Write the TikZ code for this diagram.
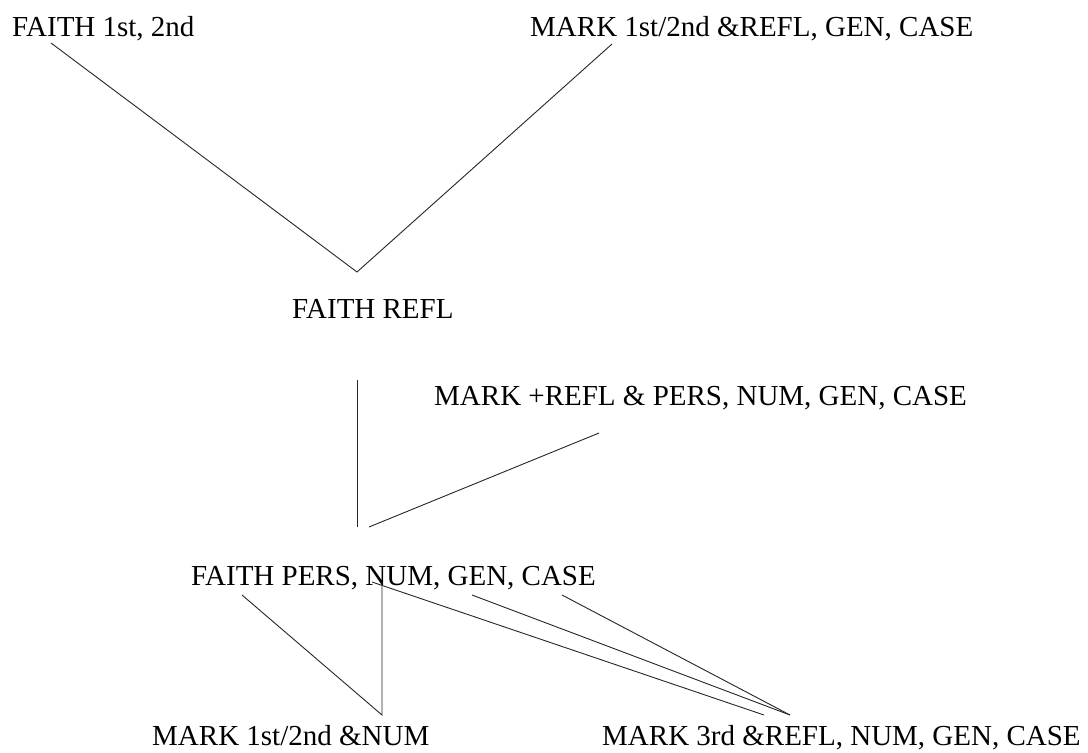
\documentclass[tikz,border=0pt]{standalone}
\usepackage{fontspec}
\setmainfont{Liberation Serif}
\begin{document}
\begin{tikzpicture}[x=1pt,y=-1pt,
  lbl/.style={anchor=base west,inner sep=0pt,font=\fontsize{29}{34}\selectfont},
  conn/.style={line width=0.9pt,black!85}]
\useasboundingbox[fill=white] (0,0) rectangle (1088,753);
% texts
\node[lbl] (t1) at (12,36) {FAITH 1st, 2nd};
\node[lbl] (t2) at (530,36) {MARK 1st/2nd \&REFL, GEN, CASE};
\node[lbl] (t3) at (292,318) {FAITH REFL};
\node[lbl] (t4) at (434,405) {MARK +REFL \& PERS, NUM, GEN, CASE};
\node[lbl] (t5) at (191,585) {FAITH PERS, NUM, GEN, CASE};
\node[lbl] (t6) at (152,745) {MARK 1st/2nd \&NUM};
\node[lbl] (t7) at (602,745) {MARK 3rd \&REFL, NUM, GEN, CASE};
% connector end points
\coordinate (a1) at (51,43);
\coordinate (a2) at (612,44);
\coordinate (v1) at (357,272);
\coordinate (b1) at (357,380);
\coordinate (b2) at (357,527);
\coordinate (c1) at (369,527);
\coordinate (c2) at (599,433);
\coordinate (d1) at (242,595);
\coordinate (d2) at (382,582);
\coordinate (d3) at (372,582);
\coordinate (d4) at (472,595);
\coordinate (d5) at (562,595);
\coordinate (e1) at (382,715);
\coordinate (e2) at (764,715);
\coordinate (e3) at (790,715);
% connectors
\draw[conn] (a1) -- (v1) -- (a2);
\draw[conn] (b1) -- (b2);
\draw[conn] (c1) -- (c2);
\draw[conn] (d1) -- (e1) -- (d2);
\draw[conn] (d3) -- (e2);
\draw[conn] (d4) -- (e3);
\draw[conn] (d5) -- (e3);
\end{tikzpicture}
\end{document}
